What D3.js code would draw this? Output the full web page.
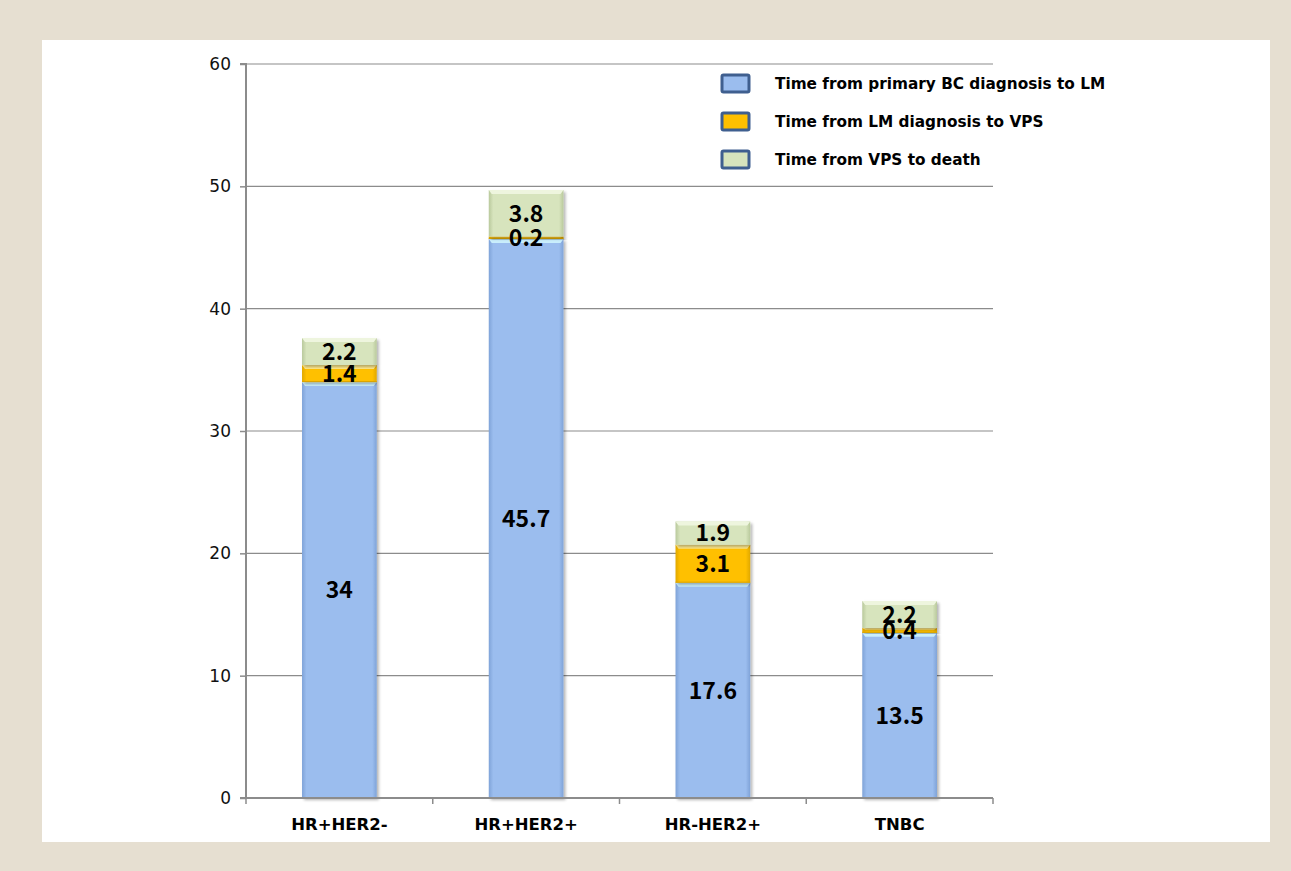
<!DOCTYPE html>
<html>
<head>
<meta charset="utf-8">
<script src="https://cdn.jsdelivr.net/npm/d3@7"></script>
<style>
  html, body { margin: 0; padding: 0; background: #e6dfd1; }
  svg { display: block; }
</style>
</head>
<body>
<script>
// Subtype groups and the three time intervals (months)
const categories = ["HR+HER2-", "HR+HER2+", "HR-HER2+", "TNBC"];
const seriesNames = [
  "Time from primary BC diagnosis to LM",
  "Time from LM diagnosis to VPS",
  "Time from VPS to death"
];
const bcToLM = [34, 45.7, 17.6, 13.5];
const lmToVPS = [1.4, 0.2, 3.1, 0.4];
const vpsToDeath = [2.2, 3.8, 1.9, 2.2];
const yTicks = [0, 10, 20, 30, 40, 50, 60];

const seriesValues = [bcToLM, lmToVPS, vpsToDeath];
const colors = ["#9bbdee", "#ffc000", "#d7e4bd"];
const edgeColors = ["#7fa3d8", "#e0a800", "#b9c99c"];
const topColors = ["#c9eefc", "#ffe98a", "#eef5de"];

const W = 1291, H = 871;
const svg = d3.select("body").append("svg").attr("width", W).attr("height", H);

// beige frame and white panel
svg.append("rect").attr("width", W).attr("height", H).attr("fill", "#e6dfd1");
svg.append("rect").attr("x", 42).attr("y", 40).attr("width", 1228).attr("height", 802).attr("fill", "#ffffff");

const m = { left: 246, right: 993, top: 64, bottom: 798 };

const x = d3.scaleBand().domain(categories).range([m.left, m.right]).paddingInner(0.6).paddingOuter(0.3);
const xEdge = d3.scaleBand().domain(categories).range([m.left, m.right]).padding(0);
const y = d3.scaleLinear().domain([0, 60]).range([m.bottom, m.top]);

const defs = svg.append("defs");
colors.forEach((c, i) => {
  const g = defs.append("linearGradient").attr("id", "grad" + i).attr("x1", 0).attr("x2", 1).attr("y1", 0).attr("y2", 0);
  g.append("stop").attr("offset", "0%").attr("stop-color", edgeColors[i]);
  g.append("stop").attr("offset", "6%").attr("stop-color", c);
  g.append("stop").attr("offset", "94%").attr("stop-color", c);
  g.append("stop").attr("offset", "100%").attr("stop-color", edgeColors[i]);
});
const shadow = defs.append("filter").attr("id", "shadow").attr("x", "-10%").attr("y", "-10%").attr("width", "130%").attr("height", "130%");
shadow.append("feGaussianBlur").attr("in", "SourceAlpha").attr("stdDeviation", 1.5);
shadow.append("feOffset").attr("dx", 1.5).attr("dy", 1.5).attr("result", "blur");
shadow.append("feComponentTransfer").append("feFuncA").attr("type", "linear").attr("slope", 0.3);
const mg = shadow.append("feMerge");
mg.append("feMergeNode");
mg.append("feMergeNode").attr("in", "SourceGraphic");

// gridlines
svg.append("g").selectAll("line").data(yTicks.filter(d => d > 0)).join("line")
  .attr("x1", m.left).attr("x2", m.right)
  .attr("y1", d => y(d)).attr("y2", d => y(d))
  .attr("stroke", "#8c8c8c").attr("stroke-width", 1.2);

// stacked data
const rows = categories.map((c, i) => ({ cat: c, s0: bcToLM[i], s1: lmToVPS[i], s2: vpsToDeath[i] }));
const stack = d3.stack().keys(["s0", "s1", "s2"]);
const layers = stack(rows);

const barsG = svg.append("g");
layers.forEach((layer, li) => {
  const g = barsG.append("g");
  layer.forEach(d => {
    const x0 = x(d.data.cat), bw = x.bandwidth();
    const yTop = y(d[1]), yBot = y(d[0]);
    const h = yBot - yTop;
    g.append("rect").attr("x", x0).attr("y", yTop).attr("width", bw).attr("height", h)
      .attr("fill", `url(#grad${li})`).attr("filter", "url(#shadow)");
    // bevelled top highlight
    const hh = Math.min(4, h * 0.35);
    g.append("path")
      .attr("d", `M${x0},${yTop} L${x0 + bw},${yTop} L${x0 + bw - 3},${yTop + hh} L${x0 + 3},${yTop + hh} Z`)
      .attr("fill", topColors[li]);
    if (li === 1) {
      g.append("line").attr("x1", x0).attr("x2", x0 + bw).attr("y1", yBot - 0.5).attr("y2", yBot - 0.5)
        .attr("stroke", "#d9a300").attr("stroke-width", 1);
    }
  });
});

// value labels centred in each segment
const labelsG = svg.append("g").attr("font-family", "'Noto Sans CJK KR', 'DejaVu Sans', sans-serif")
  .attr("font-weight", "bold").attr("font-size", 23).attr("fill", "#000").attr("text-anchor", "middle");
layers.forEach((layer, li) => {
  layer.forEach((d, i) => {
    labelsG.append("text")
      .attr("x", x(d.data.cat) + x.bandwidth() / 2)
      .attr("y", y((d[0] + d[1]) / 2))
      .attr("dy", "0.36em")
      .text(seriesValues[li][i]);
  });
});

// y axis
const yAxis = d3.axisLeft(y).tickValues(yTicks).tickSize(6).tickPadding(9);
const yg = svg.append("g").attr("transform", `translate(${m.left},0)`).call(yAxis);
yg.select(".domain").attr("stroke", "#8c8c8c").attr("stroke-width", 2).attr("d", `M-6,${m.top}H0V${m.bottom}`);
yg.selectAll(".tick line").attr("stroke", "#8c8c8c").attr("stroke-width", 1.5);
yg.selectAll("text").attr("font-family", "DejaVu Sans, Verdana, sans-serif").attr("font-size", 17).attr("fill", "#111");

// x axis baseline and boundary ticks
const xg = svg.append("g");
xg.append("line").attr("x1", m.left - 6).attr("x2", m.right).attr("y1", m.bottom).attr("y2", m.bottom)
  .attr("stroke", "#8c8c8c").attr("stroke-width", 2);
const bounds = categories.map(c => xEdge(c)).concat([m.right]);
xg.selectAll("line.b").data(bounds).join("line").attr("class", "b")
  .attr("x1", d => d).attr("x2", d => d).attr("y1", m.bottom).attr("y2", m.bottom + 6)
  .attr("stroke", "#8c8c8c").attr("stroke-width", 1.5);
xg.selectAll("text").data(categories).join("text")
  .attr("x", d => x(d) + x.bandwidth() / 2).attr("y", 830)
  .attr("text-anchor", "middle")
  .attr("font-family", "DejaVu Sans, Verdana, sans-serif").attr("font-weight", "bold").attr("font-size", 16.5)
  .attr("fill", "#000").text(d => d);

// legend
const lg = svg.append("g").attr("transform", "translate(721,74)");
seriesNames.forEach((name, i) => {
  const row = lg.append("g").attr("transform", `translate(0,${i * 38})`);
  row.append("rect").attr("x", 1).attr("y", 1).attr("width", 27).attr("height", 17).attr("rx", 1.5)
    .attr("fill", colors[i]).attr("stroke", "#3f5f8f").attr("stroke-width", 3);
  row.append("text").attr("x", 54).attr("y", 10).attr("dy", "0.35em")
    .attr("font-family", "DejaVu Sans, Verdana, sans-serif").attr("font-weight", "bold").attr("font-size", 15.3)
    .attr("fill", "#000").text(name);
});
</script>
</body>
</html>
